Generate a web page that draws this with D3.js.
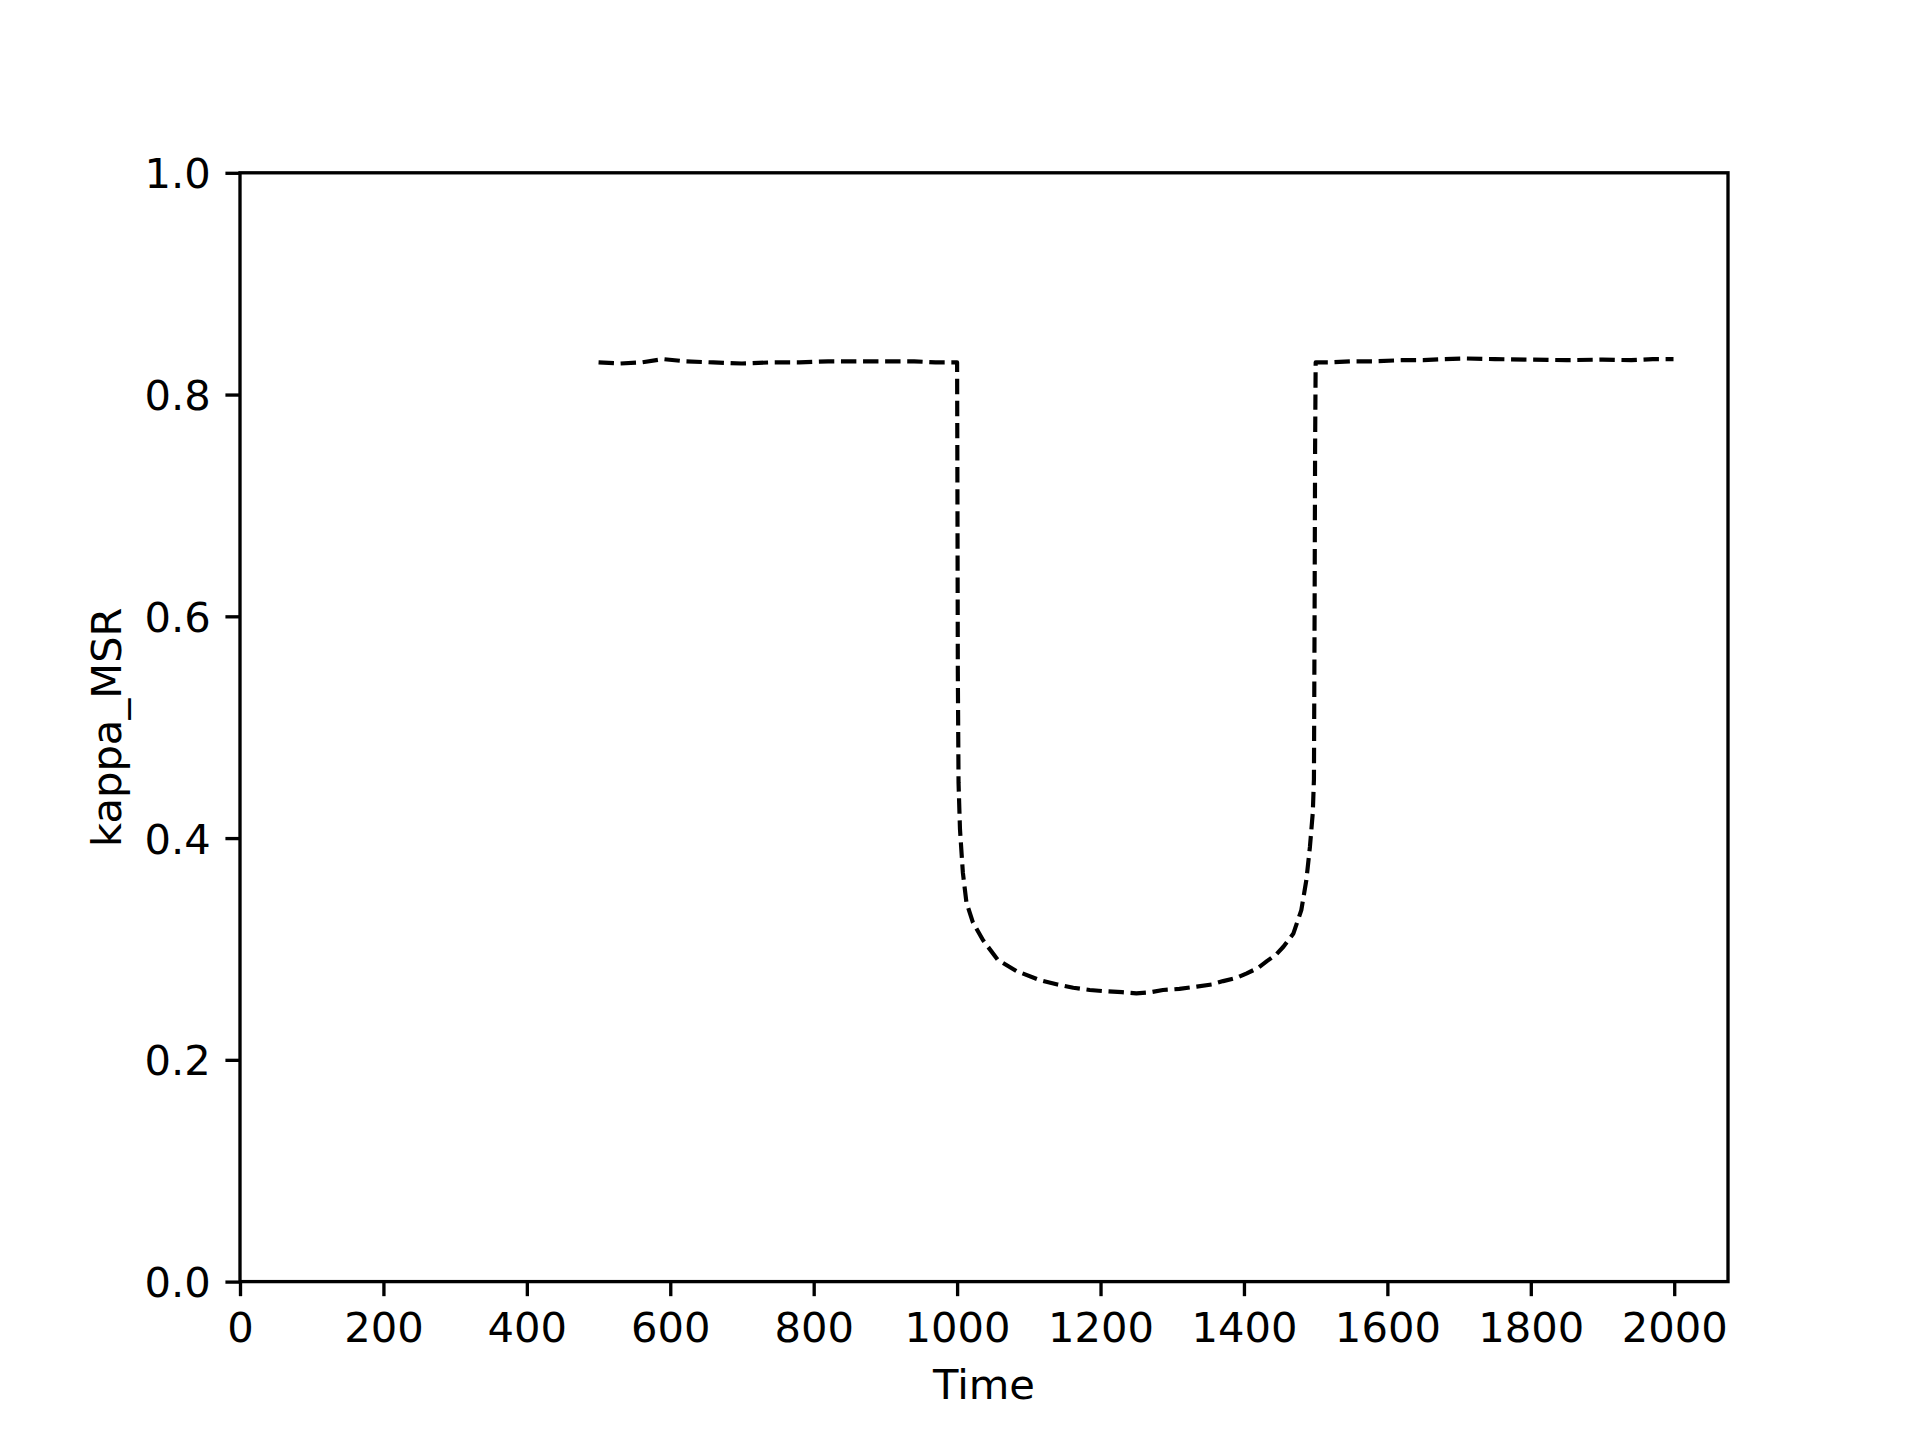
<!DOCTYPE html>
<html>
<head>
<meta charset="utf-8">
<script src="https://cdn.jsdelivr.net/npm/d3@7"></script>
<style>
  html, body { margin: 0; padding: 0; background: #ffffff; }
  svg { display: block; }
  text { font-family: "DejaVu Sans", sans-serif; fill: #000; }
</style>
</head>
<body>
<div id="chart"></div>
<script>
// ---- data ----
const time = [
  500, 530, 560, 590, 620, 660, 700, 740, 780, 820, 860, 900, 940, 970, 1000,
  1000.5, 1001, 1002, 1004, 1008, 1013, 1022, 1036, 1057, 1083, 1115, 1140, 1162,
  1185, 1208, 1230, 1250, 1270, 1287, 1310, 1334, 1355, 1371, 1390, 1404, 1420,
  1432, 1445, 1455, 1469, 1480, 1487, 1492, 1496, 1497.6, 1498.5, 1499.2, 1500,
  1520, 1550, 1580, 1620, 1650, 1680, 1710, 1750, 1800, 1850, 1900, 1940, 1970, 1999
];
const kappa = [
  0.829, 0.828, 0.829, 0.832, 0.830, 0.829, 0.828, 0.829, 0.829, 0.830, 0.830, 0.830, 0.830, 0.829, 0.829,
  0.700, 0.550, 0.450, 0.408, 0.369, 0.342, 0.324, 0.308, 0.290, 0.280, 0.272, 0.268, 0.265,
  0.263, 0.2618, 0.261, 0.260, 0.261, 0.263, 0.264, 0.266, 0.268, 0.271, 0.274, 0.278, 0.283,
  0.289, 0.295, 0.302, 0.314, 0.335, 0.362, 0.392, 0.423, 0.453, 0.600, 0.750, 0.829,
  0.829, 0.830, 0.830, 0.831, 0.831, 0.832, 0.8325, 0.832, 0.8315, 0.831, 0.8315, 0.831, 0.832, 0.832
];
const xTicks = [0, 200, 400, 600, 800, 1000, 1200, 1400, 1600, 1800, 2000];
const yTicks = [0.0, 0.2, 0.4, 0.6, 0.8, 1.0];
const xDomain = [0, 2075];
const yDomain = [0, 1];
const xLabel = "Time";
const yLabel = "kappa_MSR";

// ---- layout (matplotlib 6.4x4.8in @300dpi) ----
const W = 1920, H = 1440;
const axL = 240, axR = 1728, axT = 172.8, axB = 1281.6;
const pt = 300 / 72;
const fontSize = 10 * pt;
const tickLen = 3.5 * pt, tickPad = 3.5 * pt, spineW = 0.8 * pt;
const lineW = 1.0 * pt;

const svg = d3.select("#chart").append("svg")
  .attr("width", W).attr("height", H);

svg.append("rect").attr("width", W).attr("height", H).attr("fill", "#fff");

const x = d3.scaleLinear().domain(xDomain).range([axL, axR]);
const y = d3.scaleLinear().domain(yDomain).range([axB, axT]);

// line
const pts = time.map((t, i) => [t, kappa[i]]);
svg.append("path")
  .datum(pts)
  .attr("fill", "none")
  .attr("stroke", "#000")
  .attr("stroke-width", lineW)
  .attr("stroke-dasharray", `${3.7 * lineW},${1.6 * lineW}`)
  .attr("stroke-linejoin", "round")
  .attr("stroke-linecap", "butt")
  .attr("d", d3.line().x(d => x(d[0])).y(d => y(d[1])));

// axes
const xAxis = svg.append("g")
  .attr("transform", `translate(0,${axB})`)
  .call(d3.axisBottom(x).tickValues(xTicks).tickFormat(d3.format("d"))
    .tickSize(tickLen).tickPadding(tickPad));
const yAxis = svg.append("g")
  .attr("transform", `translate(${axL},0)`)
  .call(d3.axisLeft(y).tickValues(yTicks).tickFormat(d3.format(".1f"))
    .tickSize(tickLen).tickPadding(tickPad));

[xAxis, yAxis].forEach(g => {
  g.select(".domain").remove();
  g.selectAll(".tick line").attr("stroke", "#000").attr("stroke-width", spineW);
  g.selectAll(".tick text")
    .attr("font-family", "DejaVu Sans")
    .attr("font-size", fontSize)
    .attr("fill", "#000");
});
xAxis.selectAll(".tick text").attr("dy", "0.76em");
yAxis.selectAll(".tick text").attr("dy", "0.36em");

// spines
svg.append("rect")
  .attr("x", axL).attr("y", axT)
  .attr("width", axR - axL).attr("height", axB - axT)
  .attr("fill", "none")
  .attr("stroke", "#000")
  .attr("stroke-width", spineW)
  .attr("stroke-linejoin", "miter");

// labels
svg.append("text")
  .attr("x", (axL + axR) / 2).attr("y", 1399)
  .attr("text-anchor", "middle")
  .attr("font-size", fontSize)
  .text(xLabel);

svg.append("text")
  .attr("transform", `translate(121,${(axT + axB) / 2}) rotate(-90)`)
  .attr("text-anchor", "middle")
  .attr("font-size", fontSize)
  .text(yLabel);
</script>
</body>
</html>
